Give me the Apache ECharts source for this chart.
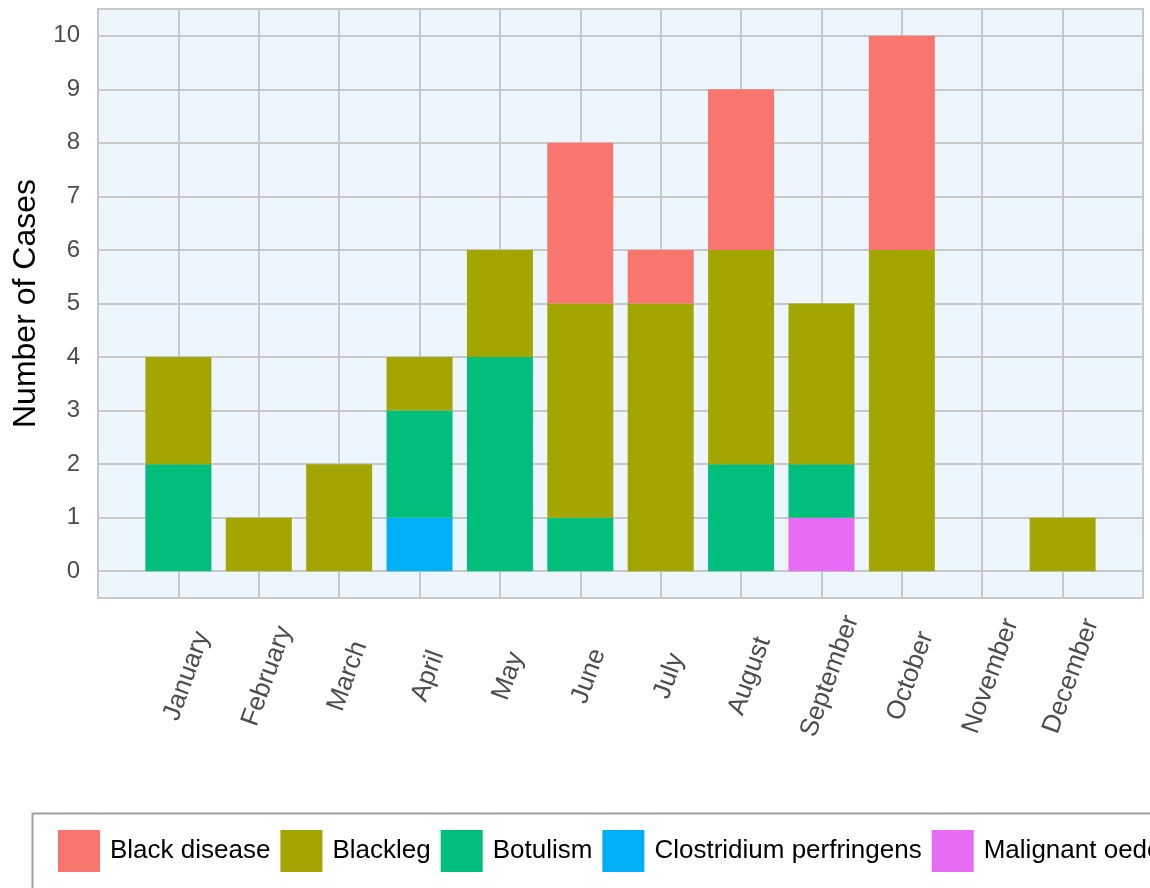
<!DOCTYPE html>
<html>
<head>
<meta charset="utf-8">
<script src="https://cdn.jsdelivr.net/npm/echarts@6/dist/echarts.min.js"></script>
<style>
html,body{margin:0;padding:0;background:#fff;}
#chart{width:1150px;height:888px;}
</style>
</head>
<body>
<div id="chart"></div>
<script>
var months = ['January','February','March','April','May','June','July','August','September','October','November','December'];
var blackDisease = [0,0,0,0,0,3,1,3,0,4,0,0];
var blackleg     = [2,1,2,1,2,4,5,4,3,6,0,1];
var botulism     = [2,0,0,2,4,1,0,2,1,0,0,0];
var clostridium  = [0,0,0,1,0,0,0,0,0,0,0,0];
var malignant    = [0,0,0,0,0,0,0,0,1,0,0,0];
var yTicks = [0,1,2,3,4,5,6,7,8,9,10];
var legendOrder = ['Black disease','Blackleg','Botulism','Clostridium perfringens','Malignant oedema'];

var colors = {
  'Black disease':'#F8766D',
  'Blackleg':'#A3A500',
  'Botulism':'#00BF7D',
  'Clostridium perfringens':'#00B0F6',
  'Malignant oedema':'#E76BF3'
};
function pad(a){ return ['-'].concat(a).concat(['-']); }
var cats = [''].concat(months).concat(['']);

var stackOrder = [
  ['Malignant oedema', malignant],
  ['Clostridium perfringens', clostridium],
  ['Botulism', botulism],
  ['Blackleg', blackleg],
  ['Black disease', blackDisease]
];
var series = stackOrder.map(function(s){
  return {
    name: s[0], type:'bar', stack:'total', barWidth:66,
    itemStyle:{color:colors[s[0]]},
    data: pad(s[1])
  };
});

var chart = echarts.init(document.getElementById('chart'));
chart.setOption({
  animation:false,
  textStyle:{fontFamily:'Liberation Sans, Arial, sans-serif'},
  grid:{left:98,right:7,top:9,bottom:290,show:true,backgroundColor:'#eef6fd',borderColor:'#c8c8c8',borderWidth:2,containLabel:false},
  xAxis:{
    type:'category', data:cats, boundaryGap:false,
    axisLine:{show:false}, axisTick:{show:false},
    splitLine:{show:true,lineStyle:{color:'#c8c8c8',width:2}},
    axisLabel:{interval:0, rotate:70, margin:75, align:'center', verticalAlign:'top', lineHeight:18,
      fontSize:26, color:'#4d4d4d', fontFamily:'Liberation Sans, Arial, sans-serif'}
  },
  yAxis:{
    type:'value', min:-0.5, max:10.5,
    name:'Number of Cases', nameLocation:'middle', nameGap:50,
    nameTextStyle:{fontSize:32, color:'#000', fontFamily:'Liberation Sans, Arial, sans-serif'},
    axisLine:{show:false},
    axisTick:{show:false, customValues:yTicks},
    axisLabel:{customValues:yTicks, margin:18, fontSize:24, color:'#4d4d4d', fontFamily:'Liberation Sans, Arial, sans-serif'},
    splitLine:{show:true,lineStyle:{color:'#c8c8c8',width:2}}
  },
  legend:{
    data:legendOrder, left:58, top:830, width:1400, orient:'horizontal', padding:0,
    itemWidth:42, itemHeight:42, itemGap:10, icon:'rect',
    textStyle:{fontSize:26, color:'#000', padding:[0,0,0,5], fontFamily:'Liberation Sans, Arial, sans-serif'}
  },
  graphic:[{
    type:'rect', left:30, top:811, silent:true,
    shape:{width:1200, height:120},
    style:{fill:'none', stroke:'#a0a0a0', lineWidth:2}
  }],
  series:series
});
</script>
</body>
</html>
